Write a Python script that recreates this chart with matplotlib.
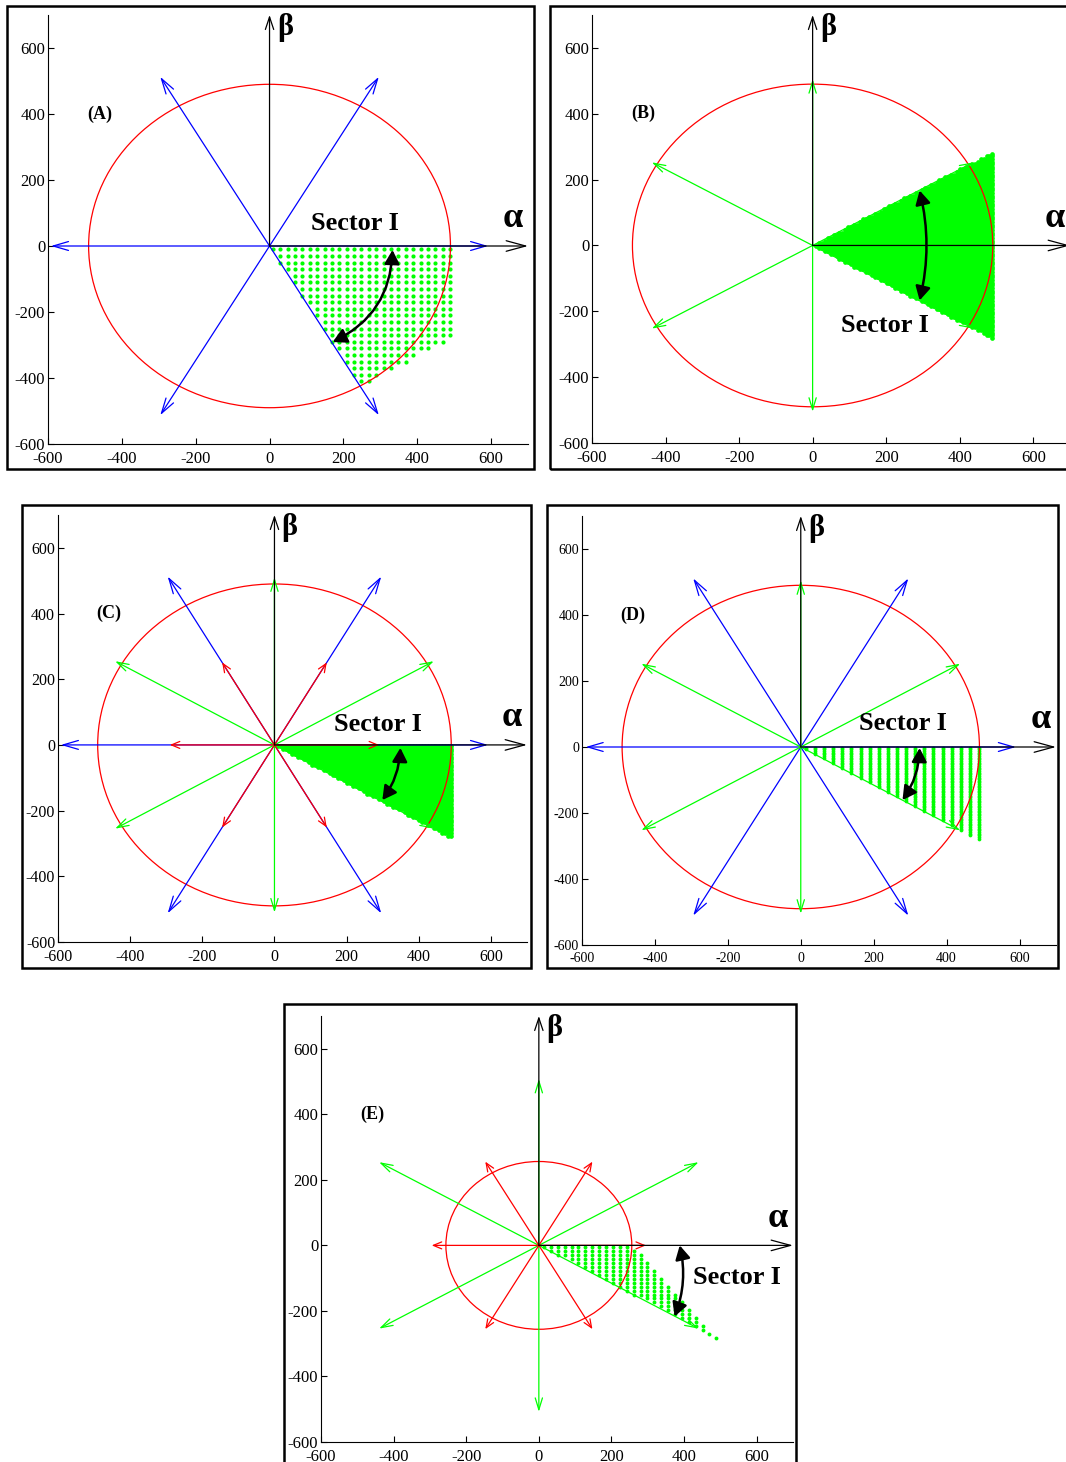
import numpy as np
import matplotlib.pyplot as plt
from matplotlib.patches import Circle, Rectangle, FancyArrowPatch
from matplotlib.path import Path

plt.rcParams['font.family'] = ['Liberation Serif', 'DejaVu Serif']
plt.rcParams['axes.unicode_minus'] = False

W, H = 1066, 1462

# ---- data ----
tick_values = [-600, -400, -200, 0, 200, 400, 600]
axis_lim = [-600, 700]

angles_main = [0, 60, 120, 180, 240, 300]   # deg
angles_mid = [30, 90, 150, 210, 270, 330]   # deg

panel_names = ['(A)', '(B)', '(C)', '(D)', '(E)']
circle_radius = [490, 490, 490, 490, 256]

# vector families per panel: (angles, length, colour)
vectors_A = [(angles_main, 592, 'blue')]
vectors_B = [(angles_mid, 505, 'green')]
vectors_C = [(angles_main, 592, 'blue'), (angles_mid, 510, 'green'), (angles_main, 290, 'red')]
vectors_D = [(angles_main, 590, 'blue'), (angles_mid, 505, 'green')]
vectors_E = [(angles_mid, 508, 'green'), (angles_main, 295, 'red')]
vectors = [vectors_A, vectors_B, vectors_C, vectors_D, vectors_E]

# corners of the green "sector I" region
sector_A = [(0, 0), (490, 0), (490, -283), (245, -424)]
sector_B = [(0, 0), (490, 283), (490, -283)]
sector_C = [(0, 0), (490, 0), (490, -283)]
sector_D = [(0, 0), (490, 0), (490, -283)]
sector_E = [(0, 0), (256, 0), (490, -283)]
sectors = [sector_A, sector_B, sector_C, sector_D, sector_E]

# curved sector arrow: two tips and bend
arc_tips = [[(333, -12), (171, -291)],
            [(291, 167), (291, -167)],
            [(349, -9), (299, -168)],
            [(326, -3), (279, -161)],
            [(388, 0), (374, -217)]]
arc_bend = [-0.3, -0.12, -0.15, -0.15, -0.15]

sector_label_xy = [(230, 67), (196, -243), (288, 61), (279, 70), (545, -98)]
name_xy = (-460, 400)
alpha_xy = (658, 82)
beta_xy = (42, 662)

# ---- style / layout ----
colours = {'blue': '#0000ff', 'green': '#00ff00', 'red': '#ff0000'}
heads = {'blue': (1.1, 0.32), 'green': (0.85, 0.26), 'red': (0.6, 0.25)}
# dot pattern: (dx, dy, markersize)
dot_style = [(20, 20, 3.0), (8, 8, 3.4), (8, 8, 3.4), (25, 5, 2.7), (19, 12, 2.8)]
# axes in pixels: left, top, right, bottom
ax_px = [(48, 15, 528, 444), (592, 15, 1070, 443), (58, 515, 527, 942),
         (582, 516, 1056, 945), (321, 1016, 793, 1442)]
frame_px = [(7, 6, 534, 469), (550, 6, 1072, 469), (22, 505, 531, 968),
            (547, 505, 1058, 968), (284, 1004, 796, 1472)]
tick_size = [12, 12, 11.5, 10, 12]


def sector_dots(corners, dx, dy):
    c = np.array(corners, dtype=float)
    xs = np.arange(c[:, 0].max() - 1, c[:, 0].min(), -dx)
    ys = np.arange(c[:, 1].max() - dy / 2, c[:, 1].min(), -dy)
    gx, gy = np.meshgrid(xs, ys)
    pts = np.column_stack([gx.ravel(), gy.ravel()])
    inside = Path(c).contains_points(pts)
    return pts[inside]


fig = plt.figure(figsize=(W / 100, H / 100), dpi=100)

for fx0, fy0, fx1, fy1 in frame_px:
    fig.add_artist(Rectangle((fx0 / W, 1 - fy1 / H), (fx1 - fx0) / W, (fy1 - fy0) / H,
                             transform=fig.transFigure, fill=False, lw=1.8, ec='k'))

for i in range(5):
    l, t, r, b = ax_px[i]
    ax = fig.add_axes([l / W, 1 - b / H, (r - l) / W, (b - t) / H])
    ax.set_xlim(axis_lim)
    ax.set_ylim(axis_lim)
    ax.set_xticks(tick_values)
    ax.set_yticks(tick_values)
    for s in ['top', 'right']:
        ax.spines[s].set_visible(False)
    for s in ['left', 'bottom']:
        ax.spines[s].set_linewidth(0.8)
    ax.tick_params(direction='in', length=4, width=0.8, labelsize=tick_size[i])
    ax.tick_params(axis='x', pad=5)
    ax.tick_params(axis='y', pad=2)
    ax.patch.set_alpha(0)

    # green dot region
    dx, dy, ms = dot_style[i]
    pts = sector_dots(sectors[i], dx, dy)
    ax.plot(pts[:, 0], pts[:, 1], 'o', color=colours['green'], ms=ms, mec='none', zorder=1.5)

    ax.add_patch(Circle((0, 0), circle_radius[i], fill=False, ec=colours['red'], lw=0.9, zorder=2))

    for angs, length, col in vectors[i]:
        hl, hw = heads[col]
        for a in angs:
            th = np.deg2rad(a)
            ax.annotate('', xy=(length * np.cos(th), length * np.sin(th)), xytext=(0, 0),
                        arrowprops=dict(arrowstyle=f'->,head_length={hl},head_width={hw}',
                                        color=colours[col], lw=0.9, shrinkA=0, shrinkB=0,
                                        mutation_scale=10),
                        annotation_clip=False, zorder=3)

    # alpha / beta axes
    ax.annotate('', xy=(700, 0), xytext=(0, 0),
                arrowprops=dict(arrowstyle='->,head_length=1.4,head_width=0.38', color='k',
                                lw=0.9, shrinkA=0, shrinkB=0, mutation_scale=10),
                annotation_clip=False, zorder=4)
    ax.annotate('', xy=(0, 700), xytext=(0, 0),
                arrowprops=dict(arrowstyle='->,head_length=0.9,head_width=0.3', color='k',
                                lw=0.9, shrinkA=0, shrinkB=0, mutation_scale=10),
                annotation_clip=False, zorder=4)

    p0, p1 = arc_tips[i]
    ax.add_patch(FancyArrowPatch(p0, p1, arrowstyle='<|-|>,head_length=0.55,head_width=0.3',
                                 mutation_scale=15, connectionstyle=f'arc3,rad={arc_bend[i]}',
                                 color='k', lw=1.8, shrinkA=0, shrinkB=0, zorder=5))

    ax.text(*sector_label_xy[i], 'Sector I', fontsize=19, fontweight='bold',
            ha='center', va='center', zorder=6)
    ax.text(*name_xy, panel_names[i], fontsize=13, fontweight='bold', ha='center', va='center')
    ax.text(*alpha_xy, 'α', fontsize=26, fontweight='bold', ha='center', va='center')
    ax.text(*beta_xy, 'β', fontsize=22, fontweight='bold', ha='center', va='center')

fig.savefig('out.png', dpi=100)
